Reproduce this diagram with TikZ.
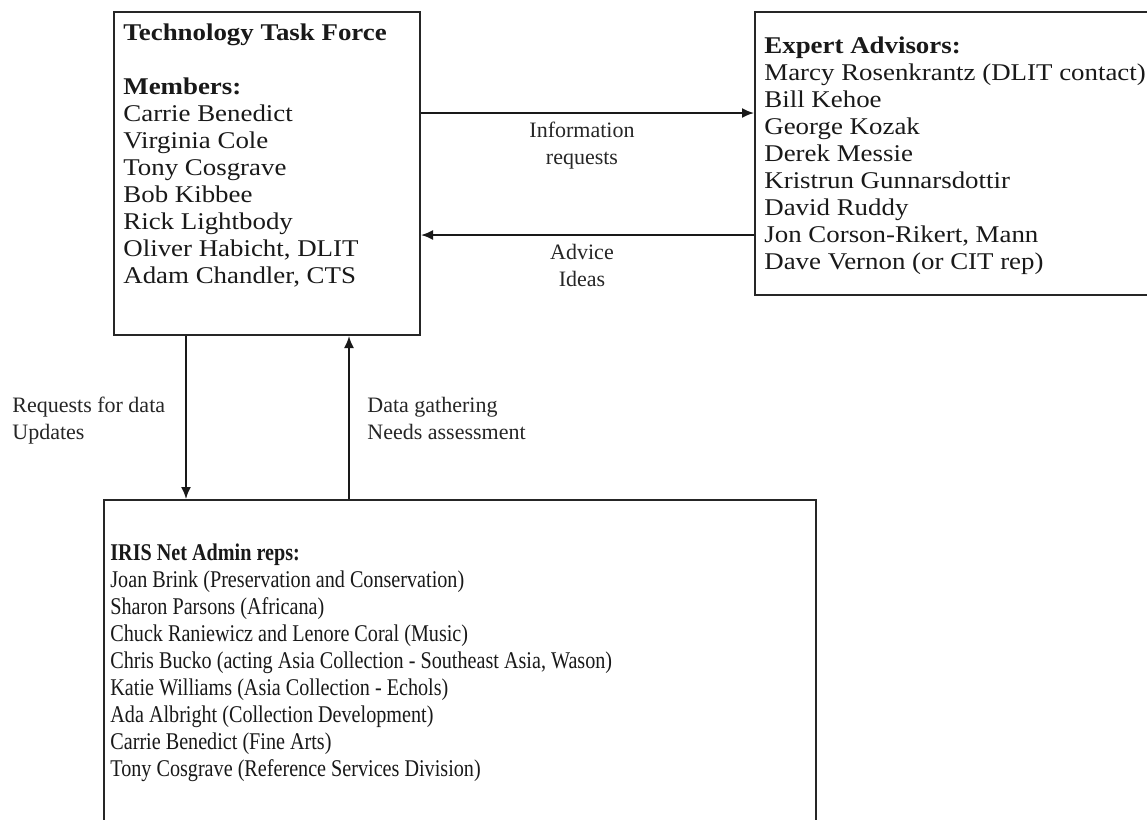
\documentclass[tikz,border=0pt]{standalone}
\usepackage{fontspec}
\setmainfont{Liberation Serif}
\newfontfamily\wideserif{Liberation Serif}[FakeStretch=1.12]
\newfontfamily\narrowserif{Liberation Serif}[FakeStretch=0.84]
\usetikzlibrary{arrows.meta,fit}
\begin{document}
\begin{tikzpicture}[x=0.5pt,y=-0.5pt,
  box/.style={draw=black!85, line width=1pt, inner sep=0pt},
  txt/.style={anchor=base west, inner sep=0pt, text=black!90},
  lbl/.style={inner sep=0pt, text=black!85},
  arr/.style={draw=black!90, line width=0.9pt, -{Latex[length=6pt,width=5pt]}}]
\clip (0,0) rectangle (1147,820);
\fill[white] (0,0) rectangle (1147,820);

\node[box, fit={(114,12)(420,335)}] (tf) {};
\node[box, fit={(755,12)(1170,295)}] (ea) {};
\node[box, fit={(104,500)(816,840)}] (iris) {};

\node[txt] (tftext) at (123,40) {\wideserif\fontsize{12}{13.5}\selectfont
  \begin{tabular}[t]{@{}l@{}}
  \bfseries Technology Task Force\\
  \\
  \bfseries Members:\\
  Carrie Benedict\\
  Virginia Cole\\
  Tony Cosgrave\\
  Bob Kibbee\\
  Rick Lightbody\\
  Oliver Habicht, DLIT\\
  Adam Chandler, CTS
  \end{tabular}};

\node[txt] (eatext) at (764,53) {\wideserif\fontsize{12}{13.5}\selectfont
  \begin{tabular}[t]{@{}l@{}}
  \bfseries Expert Advisors:\\
  Marcy Rosenkrantz (DLIT contact)\\
  Bill Kehoe\\
  George Kozak\\
  Derek Messie\\
  Kristrun Gunnarsdottir\\
  David Ruddy\\
  Jon Corson-Rikert, Mann\\
  Dave Vernon (or CIT rep)
  \end{tabular}};

\node[txt] (iristext) at (110,560) {\narrowserif\fontsize{12}{13.5}\selectfont
  \begin{tabular}[t]{@{}l@{}}
  \bfseries IRIS Net Admin reps:\\
  Joan Brink (Preservation and Conservation)\\
  Sharon Parsons (Africana)\\
  Chuck Raniewicz and Lenore Coral (Music)\\
  Chris Bucko (acting Asia Collection - Southeast Asia, Wason)\\
  Katie Williams (Asia Collection - Echols)\\
  Ada Albright (Collection Development)\\
  Carrie Benedict (Fine Arts)\\
  Tony Cosgrave (Reference Services Division)
  \end{tabular}};

\coordinate (yInfo) at (0,113);
\coordinate (yAdv) at (0,235);
\coordinate (xDown) at (186,0);
\coordinate (xUp) at (349,0);

\draw[arr] (tf.east |- yInfo) -- (ea.west |- yInfo);
\draw[arr] (ea.west |- yAdv) -- (tf.east |- yAdv);
\draw[arr] (tf.south -| xDown) -- (iris.north -| xDown);
\draw[arr] (iris.north -| xUp) -- (tf.south -| xUp);

\node[lbl, anchor=base] (linfo) at (582,137) {\fontsize{11}{13.5}\selectfont
  \begin{tabular}[t]{@{}c@{}}Information\\requests\end{tabular}};
\node[lbl, anchor=base] (ladv) at (582,259) {\fontsize{11}{13.5}\selectfont
  \begin{tabular}[t]{@{}c@{}}Advice\\Ideas\end{tabular}};
\node[lbl, anchor=base west] (lreq) at (12,412) {\fontsize{11}{13.5}\selectfont
  \begin{tabular}[t]{@{}l@{}}Requests for data\\Updates\end{tabular}};
\node[lbl, anchor=base west] (ldata) at (367,412) {\fontsize{11}{13.5}\selectfont
  \begin{tabular}[t]{@{}l@{}}Data gathering\\Needs assessment\end{tabular}};
\end{tikzpicture}
\end{document}
